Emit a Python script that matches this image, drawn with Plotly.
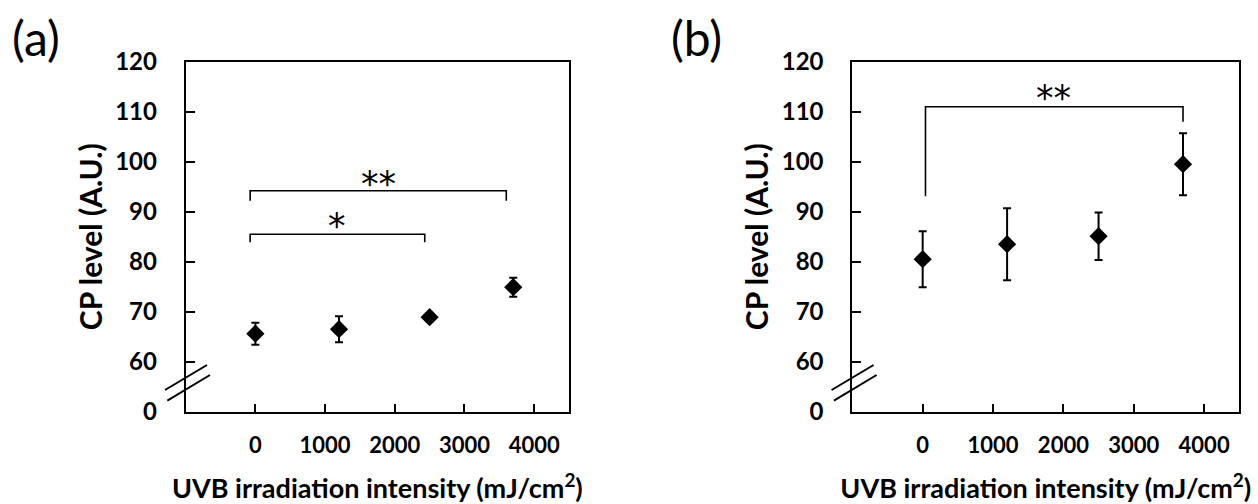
import plotly.graph_objects as go

# ---- data ----
dose = [0, 1200, 2500, 3700]
cp_a = [65.6, 66.5, 68.9, 74.9]
err_a = [2.2, 2.6, 0.8, 1.9]
cp_b = [80.5, 83.5, 85.1, 99.5]
err_b = [5.6, 7.2, 4.75, 6.2]

ytick_vals = [50, 60, 70, 80, 90, 100, 110, 120]
ytick_text = ["0", "60", "70", "80", "90", "100", "110", "120"]
xtick_vals = [0, 1000, 2000, 3000, 4000]
xtick_text = ["0", "1000", "2000", "3000", "4000"]

# significance brackets: (x_left, x_right, y_top, y_left_end, y_right_end, label, label_x, label_y)
brackets_a = [
    (-75, 3600, 94.2, 92.2, 92.2, "**", 1760, 95.6),
    (-75, 2430, 85.5, 83.9, 83.9, "*", 1170, 87.2),
]
brackets_b = [
    (40, 3700, 111.0, 93.1, 108.0, "**", 1860, 112.8),
]

FONT = "Lato"
W, H = 1258, 504
axis_px = {"a": (185.7, 569.0), "b": (852.3, 1239.3)}
ytop, ybot = 61.7, 411.7

fig = go.Figure()

def add_panel(xa, ya, ys, es, brackets, key):
    fig.add_trace(go.Scatter(
        x=dose, y=ys, mode="markers", xaxis=xa, yaxis=ya,
        marker=dict(symbol="diamond", size=14, color="black"),
        error_y=dict(type="data", array=es, visible=True, color="black",
                     thickness=2, width=4),
        showlegend=False, cliponaxis=False))
    for (xl, xr, yt, yl, yr, lab, lx, ly) in brackets:
        fig.add_shape(type="path", xref=xa, yref=ya,
                      path=f"M {xl},{yl} L {xl},{yt} L {xr},{yt} L {xr},{yr}",
                      line=dict(color="black", width=1.6))
        fig.add_annotation(x=lx, y=ly, xref=xa, yref=ya, text=lab, showarrow=False,
                           font=dict(family="DejaVu Sans", size=35, color="black"),
                           yanchor="middle", xanchor="center")
    # axis break marks (pixel offsets converted to domain)
    l, r = axis_px[key]
    wpx = r - l
    hpx = ybot - ytop
    for (p0, p1) in [((165, 390), (207, 365)), ((167.3, 400.7), (210, 375))]:
        dx = l - 185.7
        fig.add_shape(type="line", xref=f"{xa} domain", yref=f"{ya} domain",
                      x0=(p0[0] + dx - l) / wpx, y0=(ybot - p0[1]) / hpx,
                      x1=(p1[0] + dx - l) / wpx, y1=(ybot - p1[1]) / hpx,
                      line=dict(color="black", width=2))

add_panel("x", "y", cp_a, err_a, brackets_a, "a")
add_panel("x2", "y2", cp_b, err_b, brackets_b, "b")

ydom = [1 - ybot / H, 1 - ytop / H]

def xaxis_cfg(key):
    l, r = axis_px[key]
    return dict(domain=[l / W, r / W], range=[-1000, 4500], automargin=False,
                tickvals=xtick_vals, ticktext=xtick_text,
                ticks="inside", ticklen=8, tickwidth=1.6, tickcolor="black",
                showline=True, linecolor="black", linewidth=2, mirror=True,
                showgrid=False, zeroline=False, ticklabelstandoff=13,
                tickfont=dict(family=FONT, size=22, color="black", weight="bold"),
                title=dict(text="UVB irradiation intensity (mJ/cm<sup>2</sup>)",
                           font=dict(family=FONT, size=27, color="black", weight="bold"),
                           standoff=44))

def yaxis_cfg():
    return dict(domain=ydom, range=[50, 120], automargin=False,
                tickvals=ytick_vals, ticktext=ytick_text,
                ticks="inside", ticklen=9, tickwidth=1.6, tickcolor="black",
                showline=True, linecolor="black", linewidth=2, mirror=True,
                showgrid=False, zeroline=False, ticklabelstandoff=22,
                tickfont=dict(family=FONT, size=24, color="black", weight="bold"),
                title=dict(text="CP level (A.U.)",
                           font=dict(family=FONT, size=30, color="black", weight="bold"),
                           standoff=4))

fig.update_layout(
    width=W, height=H, margin=dict(l=0, r=0, t=0, b=0, autoexpand=False),
    paper_bgcolor="white", plot_bgcolor="white",
    xaxis=xaxis_cfg("a"), yaxis=yaxis_cfg(),
    xaxis2=dict(xaxis_cfg("b"), anchor="y2"), yaxis2=dict(yaxis_cfg(), anchor="x2"),
    annotations=list(fig.layout.annotations) + [
        dict(text="(a)", x=10 / W, y=1 - 38 / H, xref="paper", yref="paper",
             xanchor="left", yanchor="middle", showarrow=False,
             font=dict(family=FONT, size=48, color="black")),
        dict(text="(b)", x=669 / W, y=1 - 38 / H, xref="paper", yref="paper",
             xanchor="left", yanchor="middle", showarrow=False,
             font=dict(family=FONT, size=48, color="black")),
    ],
)
fig.update_layout(xaxis=dict(anchor="y"), yaxis=dict(anchor="x"))

fig.write_html("out.html")
